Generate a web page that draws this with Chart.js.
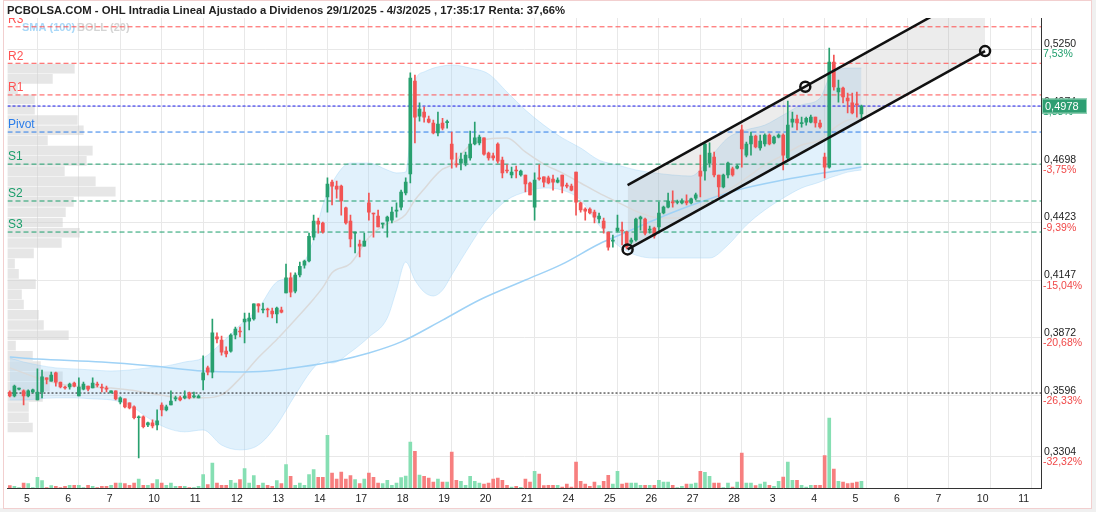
<!DOCTYPE html>
<html lang="es">
<head>
<meta charset="UTF-8">
<title>OHL Intradia</title>
<script src="https://cdn.jsdelivr.net/npm/chart.js"></script>
<style>
  body { margin: 0; background: #fff; }
  #grafico { display: block; }
</style>
</head>
<body>
<canvas id="grafico" width="1096" height="512"></canvas>
<script>
const titulo = 'PCBOLSA.COM - OHL Intradia Lineal Ajustado a Dividenos 29/1/2025 - 4/3/2025 , 17:35:17 Renta: 37,66%';

// velas horarias, 9 por sesion; la vela 0 abre la sesion del dia 5
const primeraVela = -6;
const apertura = [
  .3614,.3595,.3628,.3619,.3595,.3614,
  .3576,.3614,.3681,.3666,.3705,.3661,.3638,.3638,.3657,
  .3595,.3628,.3642,.3633,.3652,.3638,.3633,.3610,.3619,
  .3567,.3581,.3562,.3543,.3491,.3495,.3457,.3467,.3457,
  .3552,.3529,.3552,.3581,.3586,.3586,.3610,.3591,.3586,
  .3671,.3729,.3709,.3877,.3862,.3809,.3809,.3886,.3905,
  .3948,.3952,.3962,.4034,.4005,.4010,.4000,.3986,.4005,
  .4086,.4158,.4095,.4172,.4219,.4239,.4353,.4429,.4420,
  .4544,.4615,.4596,.4596,.4492,.4429,.4372,.4320,.4310,
  .4516,.4468,.4453,.4415,.4429,.4434,.4477,.4496,.4563,
  .4654,.5097,.4930,.4949,.4916,.4897,.4850,.4897,.4899,
  .4797,.4701,.4706,.4706,.4730,.4797,.4802,.4826,.4754,
  .4740,.4797,.4720,.4673,.4649,.4673,.4649,.4649,.4611,
  .4496,.4635,.4640,.4635,.4630,.4615,.4649,.4601,.4596,
  .4663,.4516,.4487,.4487,.4472,.4439,.4429,.4377,.4334,
  .4382,.4386,.4377,.4329,.4339,.4439,.4439,.4386,.4396,
  .4401,.4468,.4496,.4520,.4518,.4516,.4525,.4516,.4539,
  .4668,.4668,.4706,.4735,.4649,.4592,.4649,.4678,.4682,
  .4864,.4744,.4797,.4835,.4778,.4797,.4840,.4802,.4830,
  .4840,.4730,.4901,.4916,.4894,.4901,.4901,.4925,.4897,
  .4735,.4687,.5188,.5045,.5064,.5016,.4993,.4988,.4940
];
const maximo = [
  .3619,.3647,.3633,.3624,.3624,.3628,
  .3724,.3719,.3681,.3709,.3709,.3661,.3642,.3657,.3661,
  .3681,.3661,.3642,.3681,.3661,.3652,.3642,.3619,.3619,
  .3591,.3581,.3562,.3548,.3500,.3500,.3471,.3481,.3529,
  .3562,.3552,.3619,.3595,.3595,.3619,.3614,.3614,.3600,
  .3786,.3738,.3962,.3896,.3881,.3829,.3891,.3924,.3924,
  .3991,.3991,.4034,.4034,.4038,.4014,.4014,.4019,.4019,
  .4224,.4182,.4182,.4234,.4243,.4372,.4458,.4444,.4425,
  .4635,.4625,.4620,.4601,.4496,.4458,.4377,.4339,.4372,
  .4563,.4468,.4482,.4420,.4453,.4496,.4516,.4577,.4635,
  .5136,.5126,.4993,.4973,.4930,.4911,.4949,.4920,.4911,
  .4854,.4754,.4754,.4759,.4859,.4901,.4840,.4826,.4759,
  .4754,.4802,.4735,.4697,.4687,.4692,.4673,.4649,.4615,
  .4659,.4697,.4640,.4644,.4649,.4635,.4649,.4611,.4606,
  .4663,.4520,.4492,.4492,.4482,.4468,.4444,.4377,.4363,
  .4458,.4425,.4382,.4348,.4444,.4453,.4444,.4406,.4401,
  .4520,.4501,.4563,.4573,.4530,.4535,.4554,.4539,.4563,
  .4744,.4806,.4802,.4759,.4649,.4654,.4711,.4687,.4697,
  .4887,.4806,.4854,.4840,.4840,.4845,.4845,.4835,.4845,
  .4845,.5002,.4949,.4935,.4925,.4925,.4935,.4925,.4911,
  .4754,.5255,.5221,.5102,.5069,.5040,.5040,.5045,.4983
];
const minimo = [
  .3591,.3591,.3624,.3552,.3591,.3610,
  .3576,.3586,.3652,.3666,.3642,.3633,.3628,.3628,.3638,
  .3595,.3624,.3619,.3633,.3638,.3614,.3614,.3610,.3576,
  .3557,.3538,.3533,.3486,.3300,.3443,.3448,.3443,.3433,
  .3500,.3524,.3552,.3571,.3571,.3581,.3581,.3586,.3586,
  .3624,.3695,.3681,.3848,.3790,.3781,.3804,.3867,.3877,
  .3848,.3910,.3957,.3995,.3991,.3972,.3967,.3943,.3991,
  .4086,.4067,.4086,.4163,.4205,.4234,.4339,.4372,.4372,
  .4472,.4506,.4539,.4458,.4415,.4306,.4277,.4258,.4310,
  .4434,.4353,.4401,.4396,.4353,.4420,.4448,.4482,.4554,
  .4611,.4802,.4906,.4901,.4897,.4845,.4835,.4864,.4873,
  .4682,.4687,.4673,.4692,.4720,.4792,.4792,.4744,.4720,
  .4720,.4706,.4635,.4659,.4635,.4635,.4644,.4568,.4554,
  .4434,.4625,.4592,.4606,.4577,.4611,.4563,.4587,.4573,
  .4458,.4472,.4434,.4463,.4420,.4420,.4372,.4291,.4305,
  .4377,.4315,.4296,.4320,.4334,.4386,.4363,.4372,.4348,
  .4372,.4463,.4492,.4496,.4511,.4511,.4506,.4511,.4530,
  .4544,.4625,.4687,.4640,.4544,.4587,.4635,.4644,.4678,
  .4687,.4735,.4744,.4778,.4768,.4787,.4792,.4797,.4826,
  .4673,.4720,.4877,.4864,.4877,.4887,.4897,.4877,.4873,
  .4635,.4682,.5054,.4997,.4993,.4945,.4940,.4925,.4920
];
const cierre = [
  .3595,.3642,.3630,.3595,.3619,.3624,
  .3614,.3686,.3674,.3695,.3661,.3638,.3633,.3652,.3642,
  .3638,.3652,.3628,.3657,.3647,.3633,.3628,.3619,.3581,
  .3586,.3543,.3538,.3491,.3495,.3448,.3467,.3452,.3476,
  .3529,.3543,.3571,.3586,.3576,.3595,.3586,.3595,.3595,
  .3705,.3709,.3896,.3867,.3804,.3795,.3886,.3914,.3900,
  .3962,.3967,.4034,.4024,.4010,.4005,.3986,.4014,.3995,
  .4158,.4090,.4172,.4214,.4239,.4357,.4429,.4415,.4377,
  .4606,.4596,.4582,.4525,.4420,.4344,.4377,.4310,.4334,
  .4472,.4463,.4401,.4420,.4448,.4472,.4482,.4568,.4615,
  .5112,.4925,.4964,.4925,.4901,.4850,.4892,.4873,.4901,
  .4725,.4697,.4725,.4744,.4797,.4826,.4830,.4749,.4730,
  .4730,.4715,.4659,.4668,.4663,.4668,.4668,.4606,.4554,
  .4625,.4630,.4615,.4611,.4615,.4625,.4596,.4596,.4577,
  .4520,.4482,.4477,.4468,.4448,.4453,.4396,.4305,.4339,
  .4396,.4382,.4305,.4339,.4439,.4448,.4372,.4391,.4358,
  .4468,.4496,.4525,.4516,.4520,.4525,.4516,.4535,.4554,
  .4644,.4797,.4754,.4649,.4592,.4649,.4706,.4649,.4692,
  .4773,.4797,.4835,.4783,.4811,.4840,.4797,.4830,.4840,
  .4744,.4887,.4916,.4897,.4897,.4920,.4925,.4897,.4878,
  .4687,.5188,.5069,.5064,.5021,.5002,.4945,.4983,.4978
];
const volumen = [
  23,17,5,50,43,5,
  107,73,5,23,17,5,17,27,27,
  27,5,27,17,5,17,17,27,50,
  50,43,27,50,90,27,27,43,83,
  50,27,50,17,17,17,5,5,17,
  133,33,250,50,27,27,77,50,83,
  193,50,123,27,50,27,17,73,43,
  233,117,27,50,27,133,183,107,107,
  527,150,90,160,90,123,83,43,90,
  150,107,50,43,77,27,50,105,120,
  460,367,130,117,100,60,90,60,60,
  360,77,67,27,117,67,50,40,50,
  90,100,77,27,10,17,7,90,60,
  167,140,23,27,27,27,10,40,10,
  260,67,40,17,60,23,67,127,40,
  167,40,50,50,50,27,27,27,27,
  77,60,60,27,5,17,40,40,50,
  167,157,117,50,50,5,50,10,60,
  350,50,50,23,40,60,27,17,67,
  110,260,77,77,27,10,27,27,27,
  323,700,190,67,60,43,50,60,67
];

// bandas de Bollinger (20) y SMA (100)
const bandaX = [-6,-3,0,4,8,12,16,20,24,28,32,36,40,44,48,52,56,60,62,64,68,72,76,78,80,82,84,86,88,90,
  94,98,102,106,110,114,118,122,126,130,134,138,142,146,150,154,158,162,166,170,172,174,176,179];
const bandaSup = [.3776,.3757,.3743,.3729,.3724,.3719,.3714,.3719,.3729,.3738,.3757,.3776,.3848,.3933,.4014,.4139,.4172,.4339,.4506,.4611,.4706,.4706,.4673,.4659,.4663,.5093,.5141,.5159,.5169,.5174,
  .5159,.5131,.5045,.4959,.4887,.4826,.4778,.4720,.4697,.4673,.4659,.4649,.4644,.4730,.4826,.4864,.4887,.4935,.4983,.5016,.5112,.5150,.5159,.5159];
const bandaInf = [.3576,.3576,.3581,.3586,.3586,.3581,.3576,.3552,.3491,.3443,.3424,.3433,.3361,.3338,.3361,.3457,.3600,.3729,.3762,.3752,.3804,.3876,.3967,.4100,.4234,.4148,.4091,.4072,.4100,.4172,
  .4315,.4444,.4530,.4568,.4587,.4577,.4530,.4410,.4315,.4267,.4253,.4253,.4253,.4253,.4315,.4410,.4482,.4539,.4587,.4616,.4635,.4649,.4663,.4673];
const bandaMedia = [.3729,.3705,.3681,.3657,.3642,.3638,.3633,.3624,.3610,.3595,.3586,.3586,.3600,.3679,.3778,.3864,.3959,.4058,.4113,.4183,.4227,.4351,.4417,.4430,.4461,.4530,.4582,.4635,.4677,.4697,
  .4792,.4821,.4826,.4759,.4701,.4659,.4611,.4563,.4520,.4477,.4448,.4444,.4458,.4530,.4577,.4635,.4697,.4744,.4792,.4816,.4854,.4887,.4911,.4920];
const sma100X = [-6,0,14,25,36,43,50,57,65,72,79,88,96,106,114,122,128,135,144,152,162,172,179];
const sma100 = [.3781,.3771,.3757,.3738,.3714,.3709,.3714,.3733,.3762,.3800,.3853,.3957,.4053,.4148,.4224,.4320,.4377,.4444,.4520,.4577,.4625,.4663,.4687];

// perfil de volumen por precio
const perfilPrecio = [.5178,.5129,.5080,.5031,.4982,.4933,.4884,.4836,.4787,.4738,.4689,.4640,.4591,.4542,.4493,.4444,.4395,.4346,
  .4297,.4248,.4199,.4150,.4101,.4053,.4004,.3955,.3906,.3857,.3808,.3759,.3710,.3661,.3612,.3564,.3515,.3466];
const perfilVolumen = [67,45,10,27,27,70,76,40,85,79,57,88,108,66,58,55,72,54,26,7,11,28,14,16,31,36,61,8,25,33,55,42,35,21,21,25];

// pivotes y lineas horizontales
const pivotNombres = ['R3','R2','R1','Pivot','S1','S2','S3'];
const pivotValores = [0.5356, 0.5182, 0.5031, 0.4854, 0.4701, 0.4525, 0.4377];
const pivotColores = ['#ff5252','#ff5252','#ff5252','#2b7de9','#1b9e6b','#1b9e6b','#1b9e6b'];
const ultimoPrecio = 0.4978;
const precioInicio = 0.3609;

// canal dibujado
const canalX = [128.2, 205.85];
const canalSup = [0.4601, 0.5547];
const canalInf = [0.4294, 0.5240];
const circulos = [{x:128.2, y:0.4294}, {x:166.8, y:0.5070}, {x:205.85, y:0.5240}];

// ejes
const ticksDia = [0,9,18,27,36,45,54,63,72,81,90,99,108,117,126,135,144,153,162,171,180,189,198,207,216];
const etiquetasDia = ['5','6','7','10','11','12','13','14','17','18','19','20','21','24','25','26','27','28','3','4','5','6','7','10','11'];
const ticksPrecio = [0.5250, 0.4974, 0.4698, 0.4423, 0.4147, 0.3872, 0.3596, 0.3304];
const etiquetasPrecio = ['0,5250','0,4974','0,4698','0,4423','0,4147','0,3872','0,3596','0,3304'];
const etiquetasPct = ['7,53%','1,88%','-3,75%','-9,39%','-15,04%','-20,68%','-26,33%','-32,32%'];
const xMin = -6.5, xMax = 218, yMin = 0.3156, yMax = 0.5398;

const familia = "'Liberation Sans', Arial, sans-serif";
const verde = '#28a06f', rojo = '#f25454';
const verdeVol = '#86dfb3', rojoVol = '#f77f7f';

const idx = apertura.map((_, i) => primeraVela + i);
const sube = apertura.map((o, i) => cierre[i] >= o);
const colorVela = sube.map(s => s ? verde : rojo);

const lineaH = (v, color, dash) => ({
  type: 'line', data: [{x: xMin, y: v}, {x: xMax, y: v}],
  borderColor: color, borderWidth: 1, borderDash: dash, pointRadius: 0, order: 6
});
const curva = (xs, ys, color, extra) => Object.assign({
  type: 'line', data: xs.map((x, i) => ({x, y: ys[i]})),
  borderColor: color, borderWidth: 1.5, pointRadius: 0,
  cubicInterpolationMode: 'monotone', order: 7
}, extra);

const datasets = [
  { type: 'line', data: circulos, showLine: false, pointRadius: 5, pointBorderWidth: 2.5,
    pointBorderColor: '#111', pointBackgroundColor: 'rgba(255,255,255,0)', order: 0 },
  { type: 'line', data: canalX.map((x, i) => ({x, y: canalSup[i]})), borderColor: '#111',
    borderWidth: 2.5, pointRadius: 0, order: 1 },
  { type: 'line', data: canalX.map((x, i) => ({x, y: canalSup[i]})), borderWidth: 0, pointRadius: 0,
    fill: '+1', backgroundColor: 'rgba(160,160,160,0.2)', order: 8 },
  { type: 'line', data: canalX.map((x, i) => ({x, y: canalInf[i]})), borderColor: '#111',
    borderWidth: 2.5, pointRadius: 0, order: 1 },
  { type: 'bar', data: idx.map((x, i) => ({x, y: [apertura[i], cierre[i]]})), backgroundColor: colorVela,
    grouped: false, maxBarThickness: 3, barPercentage: 1, categoryPercentage: 1, minBarLength: 1, order: 3 },
  { type: 'bar', data: idx.map((x, i) => ({x, y: [minimo[i], maximo[i]]})), backgroundColor: colorVela,
    grouped: false, maxBarThickness: 1, barPercentage: 1, categoryPercentage: 1, order: 4 },
  { type: 'bar', yAxisID: 'yv', data: idx.map((x, i) => ({x, y: volumen[i]})),
    backgroundColor: sube.map(s => s ? verdeVol : rojoVol),
    grouped: false, maxBarThickness: 3, barPercentage: 1, categoryPercentage: 1, order: 5 },
  ...pivotValores.map((v, i) => lineaH(v, pivotColores[i], [5, 3])),
  lineaH(ultimoPrecio, '#1a1aee', [3, 2]),
  lineaH(precioInicio, '#111', [2, 2]),
  curva(sma100X, sma100, '#9fd2f6'),
  curva(bandaX, bandaMedia, '#dadada'),
  curva(bandaX, bandaSup, 'rgba(150,205,245,0.35)', { borderWidth: 1, fill: '+1',
    backgroundColor: 'rgba(165,212,246,0.33)', order: 9 }),
  curva(bandaX, bandaInf, 'rgba(150,205,245,0.35)', { borderWidth: 1, order: 9 }),
  { type: 'bar', indexAxis: 'y', xAxisID: 'xp', yAxisID: 'y',
    data: perfilPrecio.map((p, i) => ({x: perfilVolumen[i], y: p})),
    backgroundColor: 'rgba(205,205,205,0.5)', barThickness: 9, order: 10 }
];

const decorado = {
  id: 'decorado',
  beforeDraw(chart) {
    const c = chart.ctx;
    c.save();
    c.fillStyle = '#fff';
    c.fillRect(0, 0, chart.width, chart.height);
    c.fillStyle = '#f0f0f0';
    c.fillRect(0, 508, chart.width, 4);
    c.fillRect(1091, 0, 5, chart.height);
    c.strokeStyle = '#f2cfcf';
    c.lineWidth = 1;
    c.strokeRect(3.5, 0.5, 1088, 508);
    c.restore();
  },
  beforeDatasetsDraw(chart) {
    const c = chart.ctx;
    c.save();
    c.font = `bold 11px ${familia}`;
    c.textBaseline = 'middle';
    c.fillStyle = '#a9d8f8';
    c.fillText('SMA (100)', 22, 27.5);
    c.fillStyle = '#d4d4d4';
    c.fillText('BOLL (20)', 77, 27.5);
    c.restore();
  },
  afterDatasetsDraw(chart) {
    const c = chart.ctx, a = chart.chartArea, y = chart.scales.y;
    c.save();
    c.beginPath();
    c.rect(a.left, a.top, a.right - a.left, a.bottom - a.top);
    c.clip();
    c.font = `12px ${familia}`;
    c.textBaseline = 'bottom';
    pivotNombres.forEach((nombre, i) => {
      c.fillStyle = pivotColores[i];
      c.fillText(nombre, a.left + 0.5, y.getPixelForValue(pivotValores[i]) - 1);
    });
    c.restore();
  },
  afterDraw(chart) {
    const c = chart.ctx, a = chart.chartArea, y = chart.scales.y;
    c.save();
    c.font = `10.5px ${familia}`;
    c.textBaseline = 'middle';
    c.textAlign = 'left';
    ticksPrecio.forEach((v, i) => {
      const py = y.getPixelForValue(v);
      c.fillStyle = '#222';
      c.fillText(etiquetasPrecio[i], a.right + 3, py - 5);
      c.fillStyle = etiquetasPct[i].startsWith('-') ? '#f04848' : '#1f9e6c';
      c.fillText(etiquetasPct[i], a.right + 2, py + 5.5);
    });
    const py = y.getPixelForValue(ultimoPrecio);
    c.fillStyle = '#2e9e72';
    c.fillRect(a.right + 1, py - 7.5, 45, 15);
    c.strokeStyle = '#8fd0b2';
    c.strokeRect(a.right + 1.5, py - 7, 44, 14);
    c.fillStyle = '#fff';
    c.font = `11px ${familia}`;
    c.fillText(ultimoPrecio.toFixed(4).replace('.', ','), a.right + 4, py + 0.5);
    c.font = `bold 11.3px ${familia}`;
    c.fillStyle = '#222';
    c.fillText(titulo, 7, 11);
    c.restore();
  }
};

new Chart(document.getElementById('grafico'), {
  type: 'bar',
  data: { datasets },
  options: {
    responsive: false,
    animation: false,
    events: [],
    layout: { padding: { left: 5, right: 11, top: 18, bottom: 4 } },
    plugins: { legend: { display: false }, tooltip: { enabled: false } },
    scales: {
      x: {
        type: 'linear', min: xMin, max: xMax, offset: false,
        afterBuildTicks: s => { s.ticks = ticksDia.map(v => ({ value: v })); },
        afterFit: s => { s.height = 20; },
        ticks: { callback: (v, i) => etiquetasDia[i], align: 'start', labelOffset: -13.5, padding: 5,
          autoSkip: false, maxRotation: 0, color: '#222', font: { family: familia, size: 10.5 } },
        grid: { color: '#e8e8e8', drawTicks: false, offset: false },
        border: { color: '#333' }
      },
      y: {
        type: 'linear', position: 'right', min: yMin, max: yMax, offset: false,
        afterBuildTicks: s => { s.ticks = ticksPrecio.map(v => ({ value: v })); },
        afterFit: s => { s.width = 44; },
        ticks: { display: false },
        grid: { color: '#e8e8e8', drawTicks: false, offset: false },
        border: { color: '#333' }
      },
      yv: { type: 'linear', display: false, min: 0, max: 4700, offset: false },
      xp: { type: 'linear', display: false, min: 0, max: 1036, offset: false, grid: { offset: false } }
    }
  },
  plugins: [decorado]
});
</script>
</body>
</html>
